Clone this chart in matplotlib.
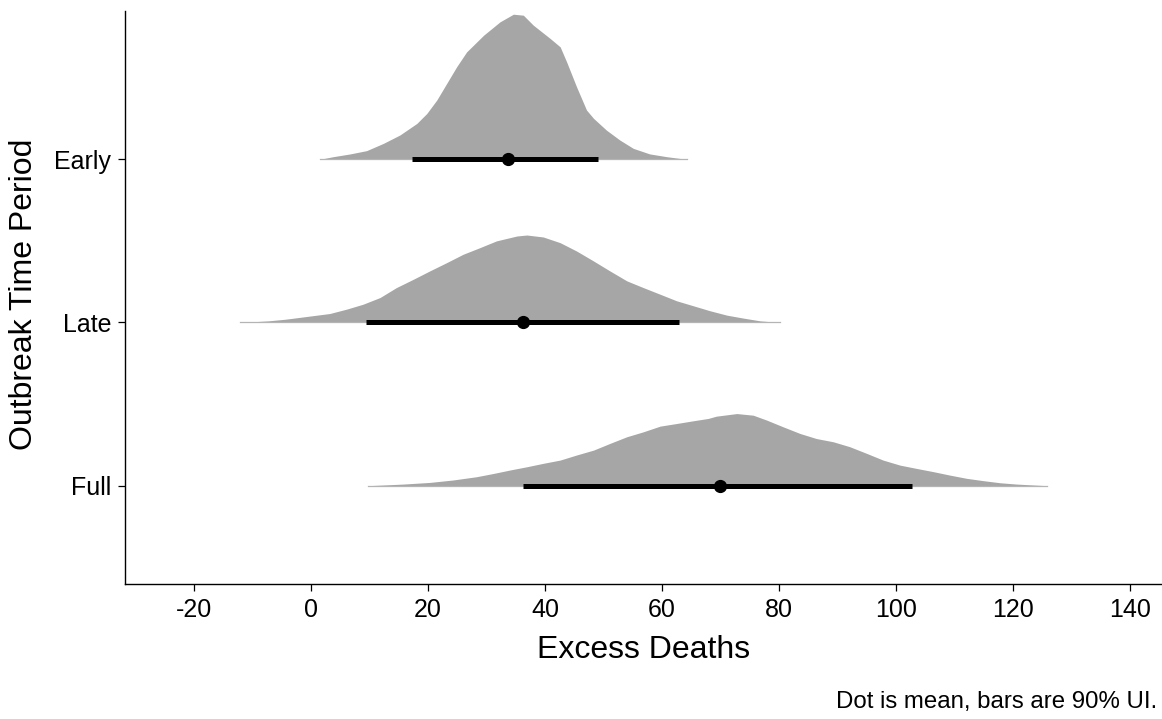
import numpy as np
import matplotlib.pyplot as plt

plt.rcParams['font.family'] = ['Liberation Sans', 'DejaVu Sans']
plt.rcParams['axes.unicode_minus'] = False

periods = ['Full', 'Late', 'Early']

# density outlines (x = excess deaths, h = slab height in row units)
early_x = [1.5, 3.8, 6.7, 9.5, 12.4, 15.2, 18.1, 19.8, 21.5, 23.2, 24.9, 26.6, 29.5, 32.3,
           34.6, 36.3, 38.0, 40.9, 42.6, 43.7, 45.4, 47.1, 48.3, 50.5, 52.8, 55.1, 57.9,
           60.8, 64.2]
early_h = [0.0, 0.016, 0.033, 0.053, 0.098, 0.149, 0.220, 0.281, 0.363, 0.465, 0.567, 0.658,
           0.760, 0.842, 0.889, 0.883, 0.822, 0.740, 0.689, 0.597, 0.444, 0.302, 0.251,
           0.179, 0.118, 0.067, 0.033, 0.016, 0.0]

late_x = [-12.1, -7.3, -4.4, -0.7, 3.2, 6.1, 8.9, 11.8, 14.6, 17.5, 20.3, 23.2, 26.0, 28.9,
          31.7, 35.2, 36.9, 39.7, 42.6, 45.4, 48.3, 51.1, 54.0, 56.8, 59.7, 62.5, 65.4,
          68.2, 71.1, 73.9, 76.8, 80.2]
late_h = [0.0, 0.010, 0.020, 0.037, 0.055, 0.082, 0.112, 0.153, 0.214, 0.265, 0.316, 0.367,
          0.418, 0.459, 0.500, 0.530, 0.536, 0.524, 0.489, 0.438, 0.377, 0.316, 0.255,
          0.214, 0.173, 0.133, 0.102, 0.072, 0.045, 0.027, 0.010, 0.0]

full_x = [9.8, 15.8, 20.3, 24.3, 28.3, 31.2, 34.0, 36.9, 39.7, 42.6, 45.4, 48.3, 51.1, 54.0,
          56.8, 59.7, 62.5, 65.4, 67.9, 69.3, 72.8, 75.6, 77.9, 80.7, 83.6, 86.4, 89.3,
          92.1, 95.0, 97.8, 100.7, 103.5, 106.4, 109.2, 112.1, 114.9, 117.8, 120.6, 125.8]
full_h = [0.0, 0.010, 0.020, 0.035, 0.055, 0.075, 0.096, 0.116, 0.137, 0.157, 0.188, 0.218,
          0.259, 0.300, 0.330, 0.365, 0.381, 0.398, 0.412, 0.426, 0.442, 0.432, 0.402,
          0.361, 0.320, 0.289, 0.269, 0.239, 0.198, 0.157, 0.126, 0.106, 0.086, 0.065,
          0.045, 0.031, 0.018, 0.010, 0.0]

means = [70.0, 36.2, 33.7]
lower = [36.2, 9.4, 17.2]
upper = [102.7, 63.0, 49.0]

slabs = [(full_x, full_h), (late_x, late_h), (early_x, early_h)]

fig = plt.figure(figsize=(11.62, 7.19), dpi=100)
ax = fig.add_axes([0.1076, 0.1883, 0.8924, 0.7967])

for i, (sx, sh) in enumerate(slabs):
    y0 = i + 1
    sx = np.array(sx)
    sh = np.array(sh)
    ax.fill_between(sx, y0, y0 + sh, color='#a6a6a6', lw=0)
    ax.plot([sx[0], sx[-1]], [y0, y0], color='#b4b4b4', lw=0.9)

ypos = np.arange(1, len(periods) + 1)
ax.hlines(ypos, lower, upper, color='black', lw=3.6, capstyle='butt', zorder=3)
ax.plot(means, ypos, 'o', color='black', ms=8.5, zorder=4)

ax.set_xlim(-31.8, 145.5)
ax.set_ylim(0.4, 3.91)
ax.set_xticks(np.arange(-20, 141, 20))
ax.set_yticks(ypos)
ax.set_yticklabels(periods)
ax.spines['top'].set_visible(False)
ax.spines['right'].set_visible(False)
for s in ['left', 'bottom']:
    ax.spines[s].set_linewidth(1.0)
ax.tick_params(labelsize=18, length=5, width=0.9, pad=5, colors='black')

ax.set_xlabel('Excess Deaths', fontsize=23, labelpad=10)
fig.text(0.021, 0.59, 'Outbreak Time Period', rotation=90, fontsize=23,
         ha='center', va='center')
fig.text(0.9955, 0.008, 'Dot is mean, bars are 90% UI.', fontsize=17.3,
         ha='right', va='bottom')

fig.savefig('out.png', dpi=100)
